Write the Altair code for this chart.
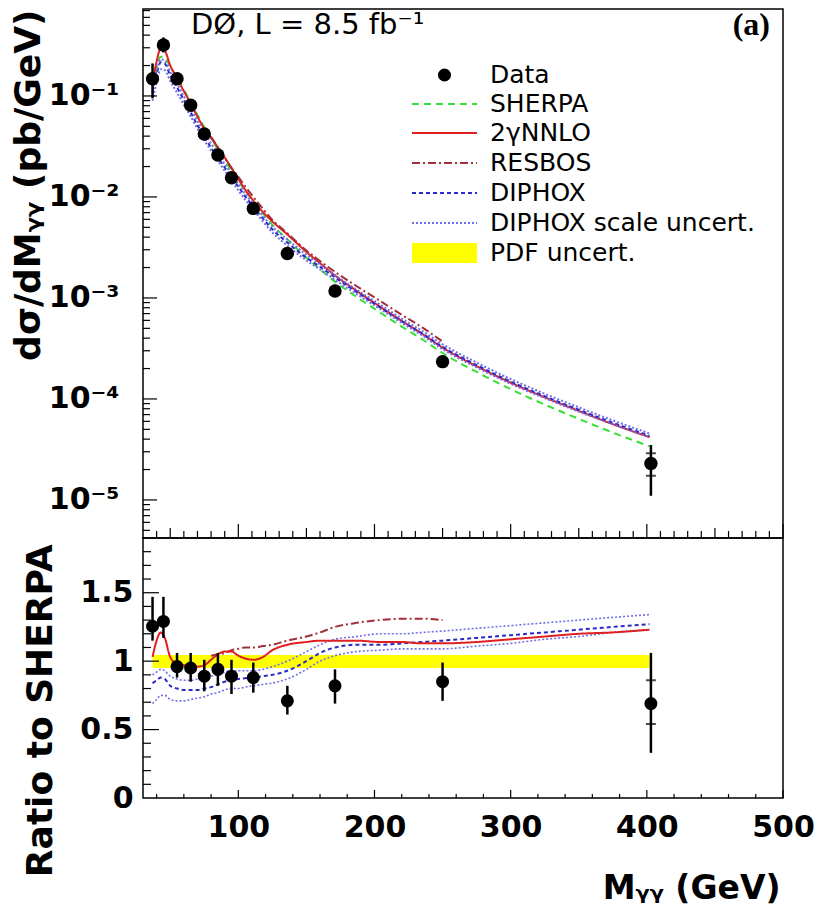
import altair as alt
import numpy as np
import pandas as pd

DATA_M = [37, 45, 55, 65, 75, 85, 95, 111, 136, 171, 250, 403]
DATA_XS = [0.148, 0.32, 0.148, 0.081, 0.042, 0.026, 0.0155, 0.0077, 0.00275, 0.00117, 0.000234, 0.000023]
DATA_XS_LO = [0.095, 0.27, 0.13, 0.072, 0.037, 0.023, 0.0135, 0.0068, 0.0024, 0.00103, 0.000205, 0.000011]
DATA_XS_HI = [0.21, 0.38, 0.165, 0.09, 0.047, 0.029, 0.0175, 0.0087, 0.0031, 0.00135, 0.00027, 0.000035]
DATA_RATIO = [1.255, 1.29, 0.96, 0.95, 0.89, 0.94, 0.89, 0.88, 0.71, 0.82, 0.85, 0.69]
DATA_RATIO_LO = [1.15, 1.17, 0.88, 0.85, 0.78, 0.82, 0.76, 0.77, 0.61, 0.69, 0.71, 0.33]
DATA_RATIO_HI = [1.47, 1.47, 1.06, 1.06, 1.01, 1.06, 1.01, 0.99, 0.82, 0.94, 0.99, 1.06]
STAT_M = [403]
STAT_XS_LO = [1.74e-5]
STAT_XS_HI = [2.9e-5]
STAT_RATIO_LO = [0.54]
STAT_RATIO_HI = [0.86]

# ---------------- theory curves ----------------
M_GRID = [37, 40, 43, 46, 50, 55, 60, 65, 70, 75, 80, 85, 90, 95, 100, 105, 111, 118, 125, 136,
          150, 160, 171, 187, 204, 220, 235, 250, 275, 300, 325, 350, 375, 402]
SHERPA_XS = [0.13, 0.19, 0.245, 0.24, 0.195, 0.152, 0.115, 0.087, 0.065, 0.049, 0.038, 0.0295,
             0.023, 0.018, 0.0145, 0.0116, 0.0091, 0.0069, 0.0053, 0.0038, 0.0025, 0.00192,
             0.00145, 0.00102, 0.00072, 0.00052, 0.00039, 0.000285, 0.000185, 0.000125,
             0.000088, 0.0000635, 0.0000465, 0.000034]
# ratios to SHERPA (lower panel)
NNLO_R = [1.03, 1.15, 1.21, 1.17, 1.03, 0.98, 0.97, 0.97, 0.96, 0.97, 1.01, 1.05, 1.07, 1.07,
          1.04, 1.02, 1.01, 1.03, 1.08, 1.12, 1.14, 1.15, 1.15, 1.15, 1.14, 1.14, 1.13, 1.13,
          1.14, 1.16, 1.18, 1.20, 1.21, 1.23]
RESBOS_R = [None] * 10 + [1.04, 1.05, 1.06, 1.08, 1.09, 1.10, 1.10, 1.11, 1.12, 1.15, 1.18, 1.21,
                          1.25, 1.28, 1.30, 1.31, 1.31, 1.30] + [None] * 6
DIPHOX_R = [0.84, 0.86, 0.88, 0.87, 0.82, 0.80, 0.79, 0.79, 0.79, 0.80, 0.81, 0.83, 0.85, 0.86,
            0.87, 0.875, 0.88, 0.89, 0.90, 0.93, 1.00, 1.06, 1.10, 1.12, 1.12, 1.13, 1.14, 1.15,
            1.17, 1.19, 1.21, 1.23, 1.25, 1.27]
DIPHOX_UP_R = [0.90, 0.92, 0.94, 0.93, 0.89, 0.87, 0.86, 0.86, 0.87, 0.88, 0.89, 0.90, 0.92, 0.93,
               0.93, 0.93, 0.93, 0.94, 0.96, 1.00, 1.07, 1.12, 1.16, 1.18, 1.20, 1.20, 1.21, 1.22,
               1.24, 1.26, 1.28, 1.30, 1.32, 1.34]
DIPHOX_LO_R = [0.69, 0.72, 0.75, 0.75, 0.72, 0.71, 0.71, 0.72, 0.73, 0.74, 0.76, 0.77, 0.79, 0.80,
               0.80, 0.81, 0.82, 0.83, 0.84, 0.87, 0.94, 1.00, 1.04, 1.07, 1.08, 1.09, 1.09, 1.09,
               1.11, 1.13, 1.16, 1.18, 1.21, 1.23]
PDF_M = [37, 402]
PDF_LO = [0.95, 0.95]
PDF_HI = [1.045, 1.045]

NAMES = ["Data", "SHERPA", "2\u03b3NNLO", "RESBOS", "DIPHOX", "DIPHOX scale uncert.", "PDF uncert."]
COLORS = ["#000000", "#33e033", "#e02020", "#a0303a", "#2a2ac8", "#6f6fe8", "#ffff00"]
DASHES = [[1, 0], [7, 5], [1, 0], [8, 3, 2, 3], [4, 3], [2, 2], [1, 0]]

FONT = "DejaVu Sans"
W, H_TOP, H_BOT = 640, 529, 260

xscale = alt.Scale(domain=[30, 500], nice=False, zero=False)
ytop_scale = alt.Scale(type="log", domain=[4.2e-6, 0.726], nice=False)
ybot_scale = alt.Scale(domain=[0, 1.9], nice=False, zero=False)

ytop_axis = alt.Axis(
    values=[1e-5, 1e-4, 1e-3, 1e-2, 1e-1],
    labelExpr="'10' + ['\u2070','\u207b\u00b9','\u207b\u00b2','\u207b\u00b3','\u207b\u2074','\u207b\u2075'][round(-log(datum.value)/LN10)]",
    ticks=False, tickSize=0, domain=False, grid=False,
    labelFont=FONT, labelFontWeight="bold", labelFontSize=30, labelColor="black", labelPadding=24,
    labelFlush=False,
    title="d\u03c3/dM\u1d67\u1d67 (pb/GeV)", titleFont=FONT, titleFontWeight="bold", titleFontSize=36,
    titleColor="black", titleAngle=270, titleX=-104, titleY=0, titleAlign="right",
    titleBaseline="alphabetic")
ybot_axis = alt.Axis(
    values=[0, 0.5, 1, 1.5], labelExpr="format(datum.value, '~g')",
    ticks=False, tickSize=0, domain=False, grid=False, labelFlush=False,
    labelFont=FONT, labelFontWeight="bold", labelFontSize=30, labelColor="black", labelPadding=10,
    title="Ratio to SHERPA", titleFont=FONT, titleFontWeight="bold", titleFontSize=36,
    titleColor="black", titleAngle=270, titleX=-92, titleY=6, titleAlign="right",
    titleBaseline="alphabetic")
xbot_axis = alt.Axis(
    values=[100, 200, 300, 400, 500], format="d",
    ticks=False, tickSize=0, domain=False, grid=False, labelFlush=False,
    labelFont=FONT, labelFontWeight="bold", labelFontSize=30, labelColor="black", labelPadding=14,
    title="M\u1d67\u1d67 (GeV)", titleFont=FONT, titleFontWeight="bold", titleFontSize=33,
    titleColor="black", titleX=637, titleY=100, titleAlign="right", titleBaseline="alphabetic")


def xt(field="M"):
    return alt.X(f"{field}:Q", scale=xscale, axis=None)


def xb(field="M"):
    return alt.X(f"{field}:Q", scale=xscale, axis=xbot_axis)


def yt(field):
    return alt.Y(f"{field}:Q", scale=ytop_scale, axis=ytop_axis)


def yb(field):
    return alt.Y(f"{field}:Q", scale=ybot_scale, axis=ybot_axis)


# ---------------- top panel ----------------
ratio_sets = [("SHERPA", "a", [1.0] * len(M_GRID)), (NAMES[2], "a", NNLO_R), ("RESBOS", "a", RESBOS_R),
              ("DIPHOX", "a", DIPHOX_R), (NAMES[5], "up", DIPHOX_UP_R), (NAMES[5], "lo", DIPHOX_LO_R)]
rows = []
for name, part, rat in ratio_sets:
    for m, s, r in zip(M_GRID, SHERPA_XS, rat):
        if r is None:
            continue
        # theory cross section = SHERPA x (ratio to SHERPA)
        rows.append({"M": m, "xs": s * r, "series": name, "part": name + part})
top_lines_df = pd.DataFrame(rows)

top_lines = alt.Chart(top_lines_df).mark_line(strokeWidth=2, interpolate="monotone").encode(
    x=xt(), y=yt("xs"),
    color=alt.Color("series:N", scale=alt.Scale(domain=NAMES, range=COLORS), legend=None),
    strokeDash=alt.StrokeDash("series:N", scale=alt.Scale(domain=NAMES, range=DASHES), legend=None),
    detail="part:N")

data_top_df = pd.DataFrame({"M": DATA_M, "xs": DATA_XS, "lo": DATA_XS_LO, "hi": DATA_XS_HI})
stat_top_df = pd.DataFrame({"M": STAT_M * 2, "v": STAT_XS_LO + STAT_XS_HI})
top_err = alt.Chart(data_top_df).mark_rule(color="black", strokeWidth=2.5).encode(
    x=xt(), y=yt("lo"), y2="hi:Q")
top_stat = alt.Chart(stat_top_df).mark_tick(color="black", thickness=2, size=10, orient="horizontal").encode(
    x=xt(), y=yt("v"))
top_pts = alt.Chart(data_top_df).mark_circle(color="black", size=180, opacity=1).encode(
    x=xt(), y=yt("xs"))

# inner tick marks (top panel)
tx_minor = pd.DataFrame({"M": [m for m in range(40, 501, 10) if m % 50 != 0]})
tx_mid = pd.DataFrame({"M": [m for m in range(50, 501, 100)]})
tx_major = pd.DataFrame({"M": [m for m in range(100, 501, 100)]})
log_minor = [k * 10.0 ** e for e in range(-6, 0) for k in range(2, 10)]
ty_minor = pd.DataFrame({"v": [v for v in log_minor if 4.2e-6 <= v <= 0.726]})
ty_major = pd.DataFrame({"v": [1e-5, 1e-4, 1e-3, 1e-2, 1e-1]})


def xticks_top(df, ln):
    return alt.Chart(df).mark_rule(color="black", strokeWidth=1.2).encode(
        x=xt(), y=alt.value(H_TOP), y2=alt.value(H_TOP - ln))


def yticks_top(df, ln):
    return alt.Chart(df).mark_rule(color="black", strokeWidth=1.2).encode(
        y=yt("v"), x=alt.value(0), x2=alt.value(ln))


label_txt = alt.Chart(pd.DataFrame({"t": ["D\u00d8, L = 8.5 fb\u207b\u00b9"]})).mark_text(
    align="left", baseline="alphabetic", font=FONT, fontSize=29, color="black").encode(
    x=alt.value(48), y=alt.value(25), text="t:N")
tag_txt = alt.Chart(pd.DataFrame({"t": ["(a)"]})).mark_text(
    align="right", baseline="alphabetic", font="Liberation Serif", fontWeight="bold",
    fontSize=32, color="black").encode(x=alt.value(627), y=alt.value(26), text="t:N")

# ---------------- hand-drawn legend ----------------
LEG_SYM_X0, LEG_SYM_X1, LEG_TXT_X = 269, 334, 347
LEG_ROWS = [66, 95, 124, 154, 184, 214, 244]
leg_layers = []
for i, name in enumerate(NAMES):
    yc = LEG_ROWS[i]
    one = pd.DataFrame({"t": [name]})
    if name == "Data":
        sym = alt.Chart(one).mark_circle(color="black", size=170, opacity=1).encode(
            x=alt.value((LEG_SYM_X0 + LEG_SYM_X1) / 2), y=alt.value(yc))
    elif name == "PDF uncert.":
        sym = alt.Chart(one).mark_rect(color=COLORS[i]).encode(
            x=alt.value(LEG_SYM_X0), x2=alt.value(LEG_SYM_X1),
            y=alt.value(yc - 10), y2=alt.value(yc + 10))
    else:
        sym = alt.Chart(one).mark_rule(color=COLORS[i], strokeDash=DASHES[i], strokeWidth=2).encode(
            x=alt.value(LEG_SYM_X0), x2=alt.value(LEG_SYM_X1), y=alt.value(yc))
    txt = alt.Chart(one).mark_text(align="left", baseline="middle", font=FONT, fontSize=25,
                                   color="black").encode(
        x=alt.value(LEG_TXT_X), y=alt.value(yc), text="t:N")
    leg_layers += [sym, txt]

top = alt.layer(
    top_lines, top_err, top_stat, top_pts,
    xticks_top(tx_minor, 7), xticks_top(tx_mid, 10), xticks_top(tx_major, 14),
    yticks_top(ty_minor, 7), yticks_top(ty_major, 14),
    label_txt, tag_txt, *leg_layers,
).properties(width=W, height=H_TOP)

# ---------------- bottom panel ----------------
pdf_df = pd.DataFrame({"M": PDF_M, "lo": PDF_LO, "hi": PDF_HI})
band = alt.Chart(pdf_df).mark_area(color="#ffff00", opacity=1).encode(
    x=xb(), y=yb("lo"), y2="hi:Q")


def ratio_line(vals, color, dash, width):
    df = pd.DataFrame({"M": M_GRID, "r": [np.nan if v is None else v for v in vals]}).dropna()
    return alt.Chart(df).mark_line(color=color, strokeDash=dash, strokeWidth=width,
                                   interpolate="monotone").encode(x=xb(), y=yb("r"))


data_bot_df = pd.DataFrame({"M": DATA_M, "r": DATA_RATIO, "lo": DATA_RATIO_LO, "hi": DATA_RATIO_HI})
stat_bot_df = pd.DataFrame({"M": STAT_M * 2, "v": STAT_RATIO_LO + STAT_RATIO_HI})
bot_err = alt.Chart(data_bot_df).mark_rule(color="black", strokeWidth=2.5).encode(
    x=xb(), y=yb("lo"), y2="hi:Q")
bot_stat = alt.Chart(stat_bot_df).mark_tick(color="black", thickness=2, size=10, orient="horizontal").encode(
    x=xb(), y=yb("v"))
bot_pts = alt.Chart(data_bot_df).mark_circle(color="black", size=170, opacity=1).encode(
    x=xb(), y=yb("r"))

bx_minor = pd.DataFrame({"M": [m for m in range(40, 501, 20) if m % 100 != 0]})
bx_major = pd.DataFrame({"M": [m for m in range(100, 501, 100)]})
by_minor = pd.DataFrame({"v": [round(0.1 * i, 1) for i in range(1, 19) if i % 5 != 0]})
by_major = pd.DataFrame({"v": [0.5, 1.0, 1.5]})


def xticks_bot(df, ln):
    return alt.Chart(df).mark_rule(color="black", strokeWidth=1.2).encode(
        x=xb(), y=alt.value(H_BOT), y2=alt.value(H_BOT - ln))


def yticks_bot(df, ln):
    return alt.Chart(df).mark_rule(color="black", strokeWidth=1.2).encode(
        y=yb("v"), x=alt.value(0), x2=alt.value(ln))


bottom = alt.layer(
    band,
    ratio_line(DIPHOX_UP_R, COLORS[5], DASHES[5], 1.6),
    ratio_line(DIPHOX_LO_R, COLORS[5], DASHES[5], 1.6),
    ratio_line(DIPHOX_R, COLORS[4], DASHES[4], 2),
    ratio_line(RESBOS_R, COLORS[3], DASHES[3], 2),
    ratio_line(NNLO_R, COLORS[2], DASHES[2], 2),
    bot_err, bot_stat, bot_pts,
    xticks_bot(bx_minor, 4), xticks_bot(bx_major, 8),
    yticks_bot(by_minor, 8), yticks_bot(by_major, 16),
).properties(width=W, height=H_BOT)

chart = alt.vconcat(top, bottom, spacing=0, bounds="flush").properties(
    padding={"left": 9, "top": 8, "right": 2, "bottom": 2}
).configure_view(stroke="black", strokeWidth=1.5)

chart.save("out.html", embed_options={"renderer": "svg", "actions": False})
